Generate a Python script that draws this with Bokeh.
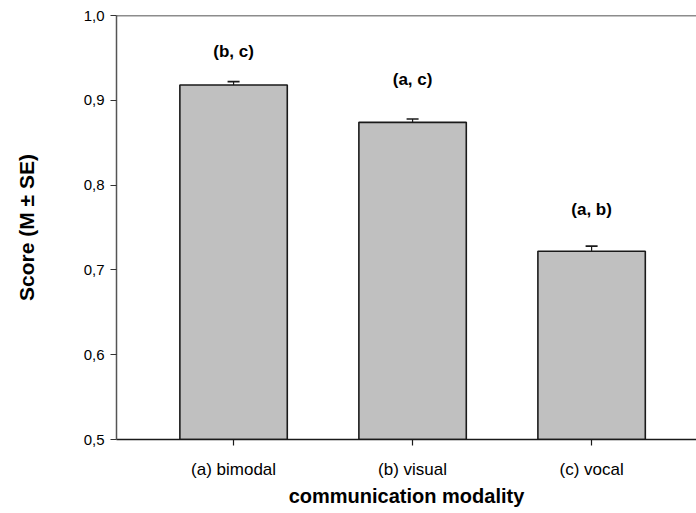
from bokeh.plotting import figure
from bokeh.models import Range1d, Whisker, ColumnDataSource, Span, FixedTicker, TeeHead
from bokeh.embed import file_html
from bokeh.resources import INLINE

categories = ["(a) bimodal", "(b) visual", "(c) vocal"]
means = [0.918, 0.874, 0.722]
se = [0.004, 0.004, 0.006]
letters = ["(b, c)", "(a, c)", "(a, b)"]
letter_y = [0.958, 0.925, 0.771]
y_ticks = [0.5, 0.6, 0.7, 0.8, 0.9, 1.0]

xs = list(range(1, len(categories) + 1))
src = ColumnDataSource(dict(
    x=xs, top=means, upper=[m + s for m, s in zip(means, se)], lab=letters, ly=letter_y,
))

FONT = "Liberation Sans"

p = figure(frame_width=580, frame_height=424, output_backend="svg", toolbar_location=None,
           x_range=Range1d(0.346, 3.586), y_range=Range1d(0.5, 1.0),
           min_border_left=116, min_border_top=15, min_border_right=0, min_border_bottom=60)
p.outline_line_color = None
p.grid.grid_line_color = None
p.background_fill_color = "white"

p.vbar(x="x", top="top", bottom=0.5, width=0.6, source=src,
       fill_color="#c0c0c0", line_color="#1a1a1a", line_width=1.6)

w = Whisker(base="x", lower="top", upper="upper", source=src, dimension="height",
            line_color="#1a1a1a", line_width=1.2,
            upper_head=TeeHead(size=12, line_color="#1a1a1a", line_width=1.6),
            lower_head=None)
p.add_layout(w)

p.text(x="x", y="ly", text="lab", source=src, text_align="center", text_baseline="middle",
       text_font={"value": FONT}, text_font_style="bold", text_font_size="17px",
       text_color="#000000")

p.add_layout(Span(location=1.0, dimension="width", line_color="#1a1a1a", line_width=1.5))

p.xaxis.ticker = FixedTicker(ticks=xs)
p.xaxis.major_label_overrides = {x: c for x, c in zip(xs, categories)}
p.yaxis.ticker = FixedTicker(ticks=y_ticks)
p.yaxis.major_label_overrides = {t: f"{t:.1f}".replace(".", ",") for t in y_ticks}

for ax in (p.xaxis[0], p.yaxis[0]):
    ax.major_label_text_font = FONT
    ax.major_label_text_color = "#000000"
    ax.axis_label_text_font = FONT
    ax.axis_label_text_font_style = "bold"
    ax.axis_label_text_color = "#000000"
    ax.minor_tick_line_color = None
    ax.major_tick_in = 0
    ax.major_tick_out = 6
    ax.axis_line_width = 1.5
    ax.major_tick_line_width = 1.2

p.xaxis.major_label_text_font_size = "17px"
p.yaxis.major_label_text_font_size = "15px"
p.xaxis.axis_label_text_font_size = "20px"
p.yaxis.axis_label_text_font_size = "21px"

p.xaxis.axis_line_color = "#1a1a1a"
p.yaxis.axis_line_color = "#555555"
p.xaxis.major_tick_line_color = "#1a1a1a"
p.yaxis.major_tick_line_color = "#333333"

p.xaxis.axis_label = "communication modality"
p.yaxis.axis_label = "Score (M \u00b1 SE)"
p.xaxis.major_label_standoff = 14
p.xaxis.axis_label_standoff = 3
p.yaxis.major_label_standoff = 6
p.yaxis.axis_label_standoff = 43

open("out.html", "w").write(file_html(p, INLINE))
